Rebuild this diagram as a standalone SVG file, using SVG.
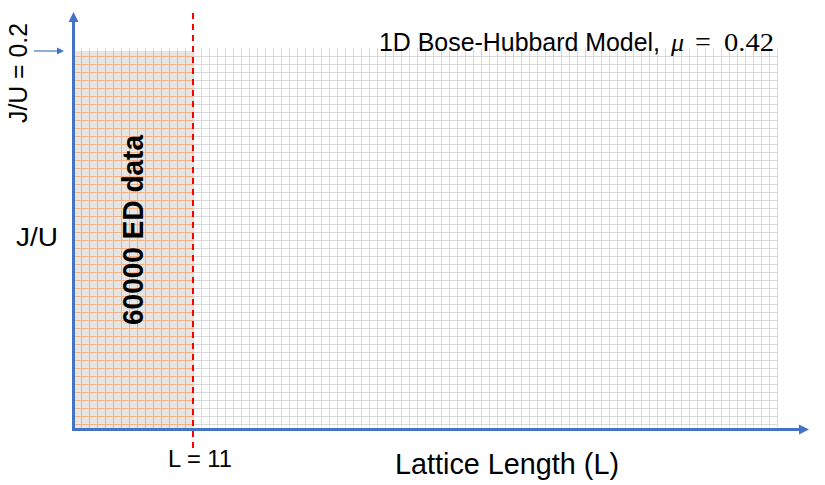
<svg xmlns="http://www.w3.org/2000/svg" width="825" height="485" viewBox="0 0 825 485">
  <style>
    .lbl { font-family: "Liberation Sans", Arial, sans-serif; fill: #000; }
    .math { font-family: "Liberation Serif", "Times New Roman", serif; fill: #000; }
    .axis { stroke: #4472c4; stroke-width: 3; fill: none; }
  </style>
  <defs>
    <pattern id="gridGray" patternUnits="userSpaceOnUse" x="77" y="52" width="8" height="8">
      <path d="M4 0h1v8h-1zM0 4h8v1h-8z" fill="#d9d9d9" shape-rendering="crispEdges"/>
    </pattern>
    <pattern id="gridOrange" patternUnits="userSpaceOnUse" x="77" y="52" width="8" height="8">
      <rect width="8" height="8" fill="#e7e6e6" shape-rendering="crispEdges"/>
      <path d="M4 0h1v8h-1zM0 4h8v1h-8z" fill="#f4b183" shape-rendering="crispEdges"/>
    </pattern>
    <pattern id="ticks" patternUnits="userSpaceOnUse" x="77" y="0" width="8" height="8">
      <path d="M4 0h1v8h-1z" fill="#d9d9d9" shape-rendering="crispEdges"/>
    </pattern>
  </defs>
  <rect width="825" height="485" fill="#ffffff"/>

  <g id="grid">
    <rect x="75" y="48" width="703" height="3" fill="url(#ticks)"/>
    <rect x="193" y="51" width="585" height="376" fill="url(#gridGray)"/>
    <rect x="75" y="51" width="118" height="377" fill="url(#gridOrange)"/>
  </g>

  <g id="connectors">
    <line class="axis" x1="73.5" y1="20" x2="73.5" y2="431"/>
    <polygon points="73.5,12 78.5,22 68.5,22" fill="#4472c4"/>
    <line class="axis" x1="72" y1="429.5" x2="801" y2="429.5"/>
    <polygon points="809,429.5 799,424.5 799,434.5" fill="#4472c4"/>
    <line x1="34" y1="51" x2="58" y2="51" stroke="#4472c4" stroke-width="1.2"/>
    <polygon points="64,51 57,47.5 57,54.5" fill="#4472c4"/>
    <line x1="193" y1="13" x2="193" y2="449" stroke="#ff0000" stroke-width="2" stroke-dasharray="6 5"/>
  </g>

  <g id="title">
    <text class="lbl" x="379" y="51" font-size="25" textLength="281" lengthAdjust="spacingAndGlyphs">1D Bose-Hubbard Model,</text>
    <text class="math" x="671" y="51" font-size="26" font-style="italic">μ</text>
    <text class="math" x="695" y="51" font-size="28">=</text>
    <text class="math" x="724" y="51" font-size="26" textLength="50" lengthAdjust="spacingAndGlyphs">0.42</text>
  </g>

  <g id="y-label-top">
    <text class="lbl" transform="translate(27,123) rotate(-90)" x="0" y="0" font-size="26" textLength="100" lengthAdjust="spacingAndGlyphs">J/U = 0.2</text>
  </g>

  <g id="y-label">
    <text class="lbl" x="16" y="246" font-size="26" textLength="42" lengthAdjust="spacingAndGlyphs">J/U</text>
  </g>

  <g id="ed-data">
    <text class="lbl" transform="translate(143,230) rotate(-90)" x="0" y="0" font-size="29" font-weight="bold" text-anchor="middle" textLength="190" lengthAdjust="spacingAndGlyphs">60000 ED data</text>
  </g>

  <g id="l-label">
    <text class="lbl" x="168" y="467" font-size="24" textLength="64" lengthAdjust="spacingAndGlyphs">L = 11</text>
  </g>

  <g id="x-label">
    <text class="lbl" x="395" y="474" font-size="29" textLength="224" lengthAdjust="spacingAndGlyphs">Lattice Length (L)</text>
  </g>
</svg>
